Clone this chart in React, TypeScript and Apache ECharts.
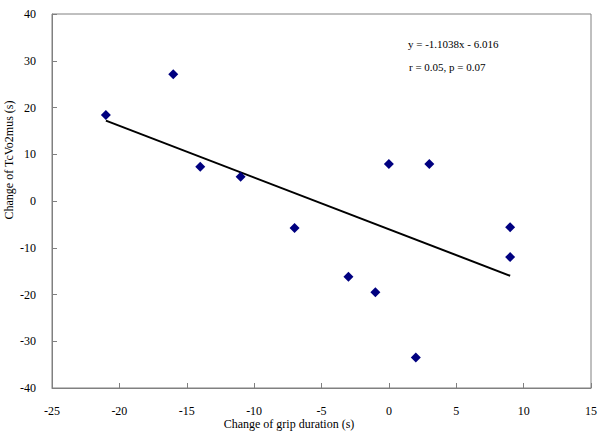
import React, { useEffect, useRef } from "react";
import * as echarts from "echarts";

const gripChange: number[] = [-21, -16, -14, -11, -7, -3, -1, 0, 2, 3, 9, 9];
const tcvo2Change: number[] = [18.4, 27.1, 7.3, 5.2, -5.8, -16.2, -19.5, 7.9, -33.5, 7.9, -5.6, -12.0];
const trendX: number[] = [-21, 9];
const trendY: number[] = [17.2, -16.0];
const equationText = "y = -1.1038x - 6.016";
const statsText = "r = 0.05, p = 0.07";
const xName = "Change of grip duration (s)";
const yName = "Change of TcVo2mus (s)";

const FONT = "'Liberation Serif', 'Times New Roman', serif";

export default function App() {
  const ref = useRef<HTMLDivElement>(null);
  useEffect(() => {
    if (!ref.current) return;
    const chart = echarts.init(ref.current, undefined, { renderer: "svg" });
    const scatterData = gripChange.map((x, i) => [x, tcvo2Change[i]]);
    const trendData = trendX.map((x, i) => [x, trendY[i]]);
    chart.setOption({
      animation: false,
      backgroundColor: "#ffffff",
      textStyle: { fontFamily: FONT },
      grid: {
        left: 52,
        top: 14,
        right: 7,
        bottom: 45,
        show: true,
        borderColor: "#808080",
        borderWidth: 1,
        backgroundColor: "transparent",
      },
      xAxis: {
        type: "value",
        min: -25,
        max: 15,
        interval: 5,
        axisLine: { onZero: false, lineStyle: { color: "#808080", width: 1 } },
        axisTick: { show: true, inside: true, length: 5, lineStyle: { color: "#808080" } },
        splitLine: { show: false },
        axisLabel: { color: "#000", fontFamily: FONT, fontSize: 12, margin: 17 },
      },
      yAxis: {
        type: "value",
        min: -40,
        max: 40,
        interval: 10,
        axisLine: { show: true, onZero: false, lineStyle: { color: "#808080", width: 1 } },
        axisTick: { show: true, inside: true, length: 5, lineStyle: { color: "#808080" } },
        splitLine: { show: false },
        axisLabel: { color: "#000", fontFamily: FONT, fontSize: 12, margin: 16 },
      },
      series: [
        {
          type: "line",
          data: trendData,
          symbol: "none",
          lineStyle: { color: "#000000", width: 2 },
          z: 2,
        },
        {
          type: "scatter",
          data: scatterData,
          symbol: "diamond",
          symbolSize: 10,
          itemStyle: { color: "#000080", opacity: 1 },
          z: 3,
        },
      ],
      graphic: [
        {
          type: "text",
          left: 408,
          top: 38,
          style: { text: equationText, fill: "#000", font: `11px ${FONT}` },
        },
        {
          type: "text",
          left: 409,
          top: 61,
          style: { text: statsText, fill: "#000", font: `11px ${FONT}` },
        },
        {
          type: "text",
          x: 289,
          y: 424,
          style: {
            text: xName,
            fill: "#000",
            font: `12px ${FONT}`,
            align: "center",
            verticalAlign: "middle",
          },
        },
        {
          type: "text",
          x: 9,
          y: 160,
          rotation: Math.PI / 2,
          style: {
            text: yName,
            fill: "#000",
            font: `12px ${FONT}`,
            align: "center",
            verticalAlign: "middle",
          },
        },
      ],
    });
    return () => chart.dispose();
  }, []);
  return (
    <div
      ref={ref}
      style={{ position: "fixed", left: 0, top: 0, width: 600, height: 433, background: "#fff" }}
    />
  );
}
